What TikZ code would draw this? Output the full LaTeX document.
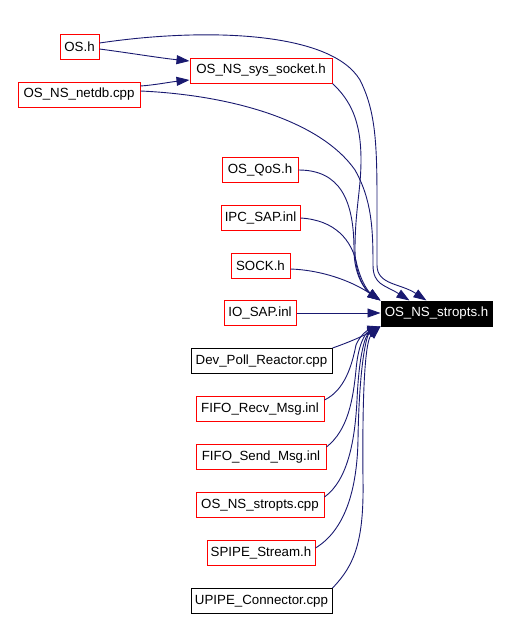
\documentclass[tikz,border=0pt]{standalone}
\usepackage{fontspec}
\setmainfont{Liberation Sans}
\usetikzlibrary{arrows.meta}
\definecolor{edgeblue}{RGB}{25,25,112}
\begin{document}
\begin{tikzpicture}[x=1pt,y=-1pt,
  box/.style={draw=red,line width=1pt,inner sep=0pt,minimum height=25pt,font=\fontsize{13.3}{16}\selectfont,text=black},
  blackbox/.style={box,draw=black},
  target/.style={box,draw=black,fill=black,text=white},
  edge/.style={draw=edgeblue,line width=0.9pt,-{Triangle[length=13pt,width=9pt]},arrows={[fill=edgeblue]}}
]
\useasboundingbox (0,0) rectangle (510,619);
\node[box,minimum width=39pt] (os) at (79.5,46.5) {OS.h};
\node[box,minimum width=142pt] (sock) at (261,70.5) {OS\_NS\_sys\_socket.h};
\node[box,minimum width=122pt] (netdb) at (79,94.5) {OS\_NS\_netdb.cpp};
\node[box,minimum width=76pt] (qos) at (260,170) {OS\_QoS.h};
\node[box,minimum width=79pt] (ipc) at (260.5,218) {IPC\_SAP.inl};
\node[box,minimum width=59pt] (sockh) at (260.5,266) {SOCK.h};
\node[box,minimum width=72pt] (iosap) at (260,313) {IO\_SAP.inl};
\node[target,minimum width=111pt] (t) at (436.5,313.5) {OS\_NS\_stropts.h};
\node[blackbox,minimum width=141pt] (dev) at (261.5,361) {Dev\_Poll\_Reactor.cpp};
\node[box,minimum width=128pt] (frecv) at (260,409) {FIFO\_Recv\_Msg.inl};
\node[box,minimum width=130pt] (fsend) at (261,457) {FIFO\_Send\_Msg.inl};
\node[box,minimum width=128pt] (scpp) at (260,505) {OS\_NS\_stropts.cpp};
\node[box,minimum width=108pt] (spipe) at (261,553) {SPIPE\_Stream.h};
\node[blackbox,minimum width=141pt] (upipe) at (261.5,601) {UPIPE\_Connector.cpp};

\path[edge] ([yshift=-2.5pt]os.east) .. controls (130,53) and (160,58) .. ([yshift=9.5pt]sock.west);
\path[edge] ([yshift=8.5pt]netdb.east) .. controls (155,85) and (170,82) .. ([yshift=-9.5pt]sock.west);
\path[edge] ([yshift=3.5pt]os.east) .. controls (200,28) and (330,30) .. (360,80)
  .. controls (375,110) and (377,140) .. (377,200) -- (377,265)
  .. controls (377,285) and (400,283) .. ([xshift=46pt]t.north west);
\path[edge] (sock.south east) .. controls (350,100) and (361,120) .. (361,160)
  .. controls (361,190) and (355,210) .. (355,250)
  .. controls (355,275) and (365,290) .. (t.north west);
\path[edge] ([yshift=3.5pt]netdb.east) .. controls (230,95) and (320,120) .. (355,170)
  .. controls (372,200) and (373,230) .. (373,265)
  .. controls (373,285) and (385,285) .. ([xshift=29pt]t.north west);
\path[edge] (qos.east) .. controls (340,170) and (354,200) .. (354,250)
  .. controls (354,275) and (365,290) .. (t.north west);
\path[edge] (ipc.east) .. controls (335,220) and (352,240) .. (357,265)
  .. controls (362,285) and (370,293) .. (t.north west);
\path[edge] ([yshift=-3pt]sockh.east) .. controls (320,270) and (350,280) .. (t.north west);
\path[edge] (iosap.east) -- (iosap.east -| t.west);
\path[edge] (dev.north east) .. controls (350,342) and (365,335) .. (t.south west);
\path[edge] ([yshift=9pt]frecv.east) .. controls (345,390) and (352,365) .. (356,345)
  .. controls (360,335) and (368,330) .. (t.south west);
\path[edge] ([yshift=10pt]fsend.east) .. controls (348,430) and (353,400) .. (356,370)
  .. controls (358,345) and (365,333) .. (t.south west);
\path[edge] ([yshift=8pt]scpp.east) .. controls (348,480) and (355,440) .. (357,400)
  .. controls (359,355) and (365,335) .. (t.south west);
\path[edge] ([yshift=5pt]spipe.east) .. controls (345,530) and (357,490) .. (358,440)
  .. controls (359,370) and (366,335) .. (t.south west);
\path[edge] (upipe.north east) .. controls (355,565) and (364,540) .. (363,480)
  .. controls (362,380) and (366,340) .. (t.south west);
\end{tikzpicture}
\end{document}
